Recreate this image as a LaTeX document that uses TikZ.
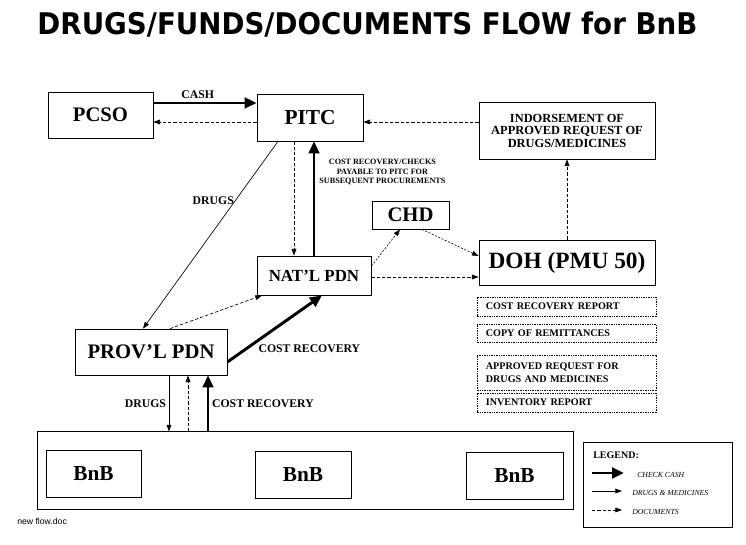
\documentclass[tikz,border=0pt]{standalone}
\usepackage{fontspec}
\setmainfont{Liberation Serif}
\newfontfamily\titlefont{DejaVu Sans}
\newfontfamily\notefont{Liberation Sans}
\usetikzlibrary{arrows.meta,calc}
\newcommand{\fsz}[1]{\fontsize{#1}{#1}\selectfont}

\begin{document}
\begin{tikzpicture}[x=0.75pt,y=-0.75pt,
        box/.style={draw, line width=0.6pt, inner sep=0pt, align=center},
        docbox/.style={draw, line width=0.5pt, dash pattern=on 1pt off 0.8pt, text width=121pt, inner xsep=6.5pt, inner ysep=0pt, align=left, font=\bfseries\fontsize{7.6}{9.5}\selectfont},
        cashline/.style={line width=2.2pt, -{Triangle[length=9pt,width=8pt]}},
        drugline/.style={line width=0.5pt, -{Triangle[length=5pt,width=3.6pt]}},
        docline/.style={line width=0.5pt, dash pattern=on 2.5pt off 1.5pt, -{Triangle[length=5pt,width=3.6pt]}},
        chdline/.style={line width=0.45pt, dash pattern=on 1.5pt off 1.2pt, -{Triangle[length=5pt,width=3.6pt]}},
        lbl/.style={font=\bfseries\fsz{8.8}, inner sep=2pt},
        legendtext/.style={anchor=west, inner sep=0pt, font=\itshape\fsz{5.8}}]

        \useasboundingbox (0,0) rectangle (746,545);

        % Title
        \node[anchor=base, inner sep=0pt] (title) at (367.5,35) {\resizebox{495pt}{17pt}{\titlefont\bfseries DRUGS/FUNDS/DOCUMENTS FLOW for BnB}};

        % Offices
        \node[box, minimum width=78.75pt, minimum height=34.5pt, font=\bfseries\fsz{15.5}] (pcso) at (100.5,115) {PCSO};
        \node[box, minimum width=79.5pt, minimum height=35.25pt, font=\bfseries\fsz{16}] (pitc) at (310,117.5) {PITC};
        \node[box, minimum width=132pt, minimum height=42.75pt, font=\bfseries\fontsize{9.3}{9.4}\selectfont] (indorse) at (567,130.5) {INDORSEMENT OF\\APPROVED REQUEST OF\\DRUGS/MEDICINES};
        \node[box, minimum width=57.75pt, minimum height=21pt, font=\bfseries\fsz{15.5}] (chd) at (410.5,215) {CHD};
        \node[box, minimum width=132pt, minimum height=33.75pt, font=\bfseries\fsz{17.5}] (doh) at (567,262.5) {DOH (PMU 50)};
        \node[box, minimum width=85.5pt, minimum height=29.25pt, font=\bfseries\fsz{12.7}] (natl) at (314,275.5) {NAT’L PDN};
        \node[box, minimum width=114pt, minimum height=34.5pt, font=\bfseries\fsz{15.5}] (prov) at (151,352) {PROV’L PDN};

        % Documents sent to DOH
        \node[docbox, minimum height=14.25pt] (rep1) at (566.5,306.5) {COST RECOVERY REPORT};
        \node[docbox, minimum height=13.5pt] (rep2) at (566.5,333) {COPY OF REMITTANCES};
        \node[docbox, minimum height=26.25pt] (rep3) at (566.5,372.5) {APPROVED REQUEST FOR\\DRUGS AND MEDICINES};
        \node[docbox, minimum height=14.25pt] (rep4) at (566.5,402.5) {INVENTORY REPORT};

        % BnB outlets
        \node[box, minimum width=402pt, minimum height=58pt] (bnbrow) at (305,470.5) {};
        \node[box, minimum width=71.25pt, minimum height=35pt, font=\bfseries\fsz{16}] (bnb1) at (93.5,474) {BnB};
        \node[box, minimum width=72pt, minimum height=35.5pt, font=\bfseries\fsz{16}] (bnb2) at (303,475) {BnB};
        \node[box, minimum width=72.75pt, minimum height=35.5pt, font=\bfseries\fsz{16}] (bnb3) at (514.5,476) {BnB};

        \node[anchor=west, inner sep=0pt, font=\notefont\fsz{6.5}] (fname) at (17,521) {new flow.doc};

        % Flows between PCSO, PITC and DOH
        \draw[cashline] ($(pcso.east)+(0,-12)$) -- ($(pitc.west)+(0,-14.5)$) node[pos=0.43, above, lbl] {CASH};
        \draw[docline] ($(pitc.west)+(0,4.5)$) -- ($(pcso.east)+(0,7)$);
        \draw[docline] ($(indorse.west)+(0,-8.5)$) -- ($(pitc.east)+(0,4.5)$);
        \draw[docline] (doh.north) -- (indorse.south);

        % Flows down to the PDNs
        \draw[drugline] ($(pitc.south)+(-32,0)$) -- ($(prov.north)+(-8,0)$) node[pos=0.315, anchor=east, lbl, inner sep=1pt] {DRUGS};
        \draw[docline] ($(pitc.south)+(-16,0)$) -- ($(natl.north)+(-20,0)$);
        \draw[cashline] (natl.north) -- (natl.north |- pitc.south) node[pos=0.73, right, inner sep=3pt, align=center, font=\bfseries\fontsize{6.1}{7.2}\selectfont] {COST RECOVERY/CHECKS\\PAYABLE TO PITC FOR\\SUBSEQUENT PROCUREMENTS};

        % Reports from NAT'L PDN
        \draw[chdline] ($(natl.east)+(0,-9.5)$) -- ($(chd.south)+(-10.5,0)$);
        \draw[chdline] ($(chd.south)+(11.5,0)$) -- ($(doh.west)+(0,-6.5)$);
        \draw[docline] ($(natl.east)+(0,1.5)$) -- ($(doh.west)+(0,14.5)$);

        % Flows between PROV'L PDN and NAT'L PDN
        \draw[docline] ($(prov.north)+(19,0)$) -- ($(natl.south)+(-52,0)$);
        \draw[cashline] ($(prov.east)+(0,10)$) -- ($(natl.south)+(8,0)$) node[pos=0.3, anchor=north west, lbl, inner sep=1pt] {COST RECOVERY};

        % Flows between PROV'L PDN and BnB
        \coordinate (provdrug) at ($(prov.south)+(18,0)$);
        \coordinate (provdoc) at ($(prov.south)+(37,0)$);
        \coordinate (provcash) at ($(prov.south)+(57,0)$);
        \draw[drugline] (provdrug) -- (provdrug |- bnbrow.north) node[midway, left, lbl] {DRUGS};
        \draw[docline] (provdoc |- bnbrow.north) -- (provdoc);
        \draw[cashline] (provcash |- bnbrow.north) -- (provcash) node[midway, right, lbl] {COST RECOVERY};

        % Legend
        \node[box, minimum width=111.75pt, minimum height=63.75pt] (legend) at (657.5,484.5) {};
        \node[anchor=west, inner sep=0pt, font=\bfseries\fsz{7.5}] (legendtitle) at (593,455) {LEGEND:};
        \coordinate (cashA) at (592,473);
        \coordinate (cashB) at (624,473);
        \coordinate (drugA) at (592,491);
        \coordinate (drugB) at (622,491);
        \coordinate (docA) at (592,510);
        \coordinate (docB) at (622,510);
        \draw[cashline] (cashA) -- (cashB);
        \draw[drugline] (drugA) -- (drugB);
        \draw[docline] (docA) -- (docB);
        \node[legendtext] (cashtext) at (637,475) {CHECK CASH};
        \node[legendtext] (drugtext) at (632,493) {DRUGS \& MEDICINES};
        \node[legendtext] (doctext) at (632,512) {DOCUMENTS};

\end{tikzpicture}
\end{document}
